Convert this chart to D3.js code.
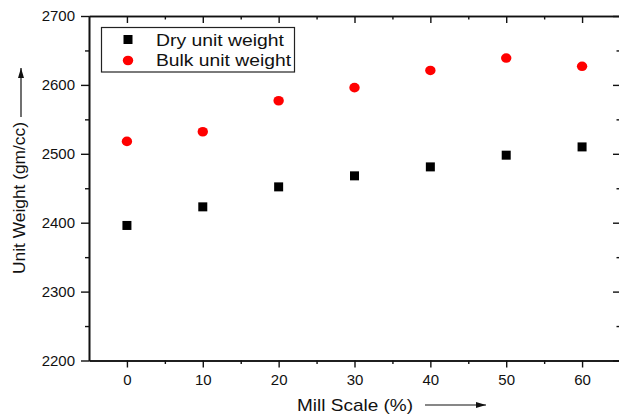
<!DOCTYPE html>
<html>
<head>
<meta charset="utf-8">
<script src="https://cdn.jsdelivr.net/npm/d3@7"></script>
<style>
  html, body { margin: 0; padding: 0; background: #fff; }
  svg { display: block; font-family: "Liberation Sans", Arial, sans-serif; }
  .axis path, .axis line { stroke: #111; }
  .axis text { fill: #111; font-size: 15px; }
</style>
</head>
<body>
<svg id="chart" width="619" height="415"></svg>
<script>
// Mill scale content (%) and measured unit weights (gm/cc)
const millScale = [0, 10, 20, 30, 40, 50, 60];
const dryUnitWeight = [2396, 2423, 2452, 2468, 2481, 2498, 2510];
const bulkUnitWeight = [2518, 2532, 2577, 2596, 2621, 2639, 2627];

const xMajorTicks = [0, 10, 20, 30, 40, 50, 60];
const xMinorTicks = [5, 15, 25, 35, 45, 55];
const yMajorTicks = [2200, 2300, 2400, 2500, 2600, 2700];
const yMinorTicks = [2250, 2350, 2450, 2550, 2650];

const seriesNames = ["Dry unit weight", "Bulk unit weight"];

const svg = d3.select("#chart");

const plotLeft = 89, plotRight = 620, plotTop = 16, plotBottom = 360.5;

const x = d3.scaleLinear().domain([-5, 65]).range([plotLeft, plotRight]);
const y = d3.scaleLinear().domain([2200, 2700]).range([plotBottom, plotTop]);

function styleAxis(g) {
  g.attr("class", "axis");
  g.select(".domain").attr("stroke-width", 1.6);
  g.selectAll(".tick line").attr("stroke-width", 1.4);
}

// Bottom axis: outward ticks with labels
svg.append("g")
  .attr("transform", `translate(0,${plotBottom})`)
  .call(d3.axisBottom(x).tickValues(xMajorTicks).tickSize(7).tickSizeOuter(0).tickPadding(7))
  .call(styleAxis);
svg.append("g")
  .attr("transform", `translate(0,${plotBottom})`)
  .call(d3.axisBottom(x).tickValues(xMinorTicks).tickSize(3.5).tickSizeOuter(0).tickFormat(""))
  .call(styleAxis);

// Top axis: inward ticks, no labels
svg.append("g")
  .attr("transform", `translate(0,${plotTop})`)
  .call(d3.axisBottom(x).tickValues(xMajorTicks).tickSize(7).tickSizeOuter(0).tickFormat(""))
  .call(styleAxis);
svg.append("g")
  .attr("transform", `translate(0,${plotTop})`)
  .call(d3.axisBottom(x).tickValues(xMinorTicks).tickSize(3.5).tickSizeOuter(0).tickFormat(""))
  .call(styleAxis);

// Left axis: outward ticks with labels
svg.append("g")
  .attr("transform", `translate(${plotLeft},0)`)
  .call(d3.axisLeft(y).tickValues(yMajorTicks).tickSize(8).tickSizeOuter(0).tickPadding(6).tickFormat(d3.format("d")))
  .call(styleAxis);
svg.append("g")
  .attr("transform", `translate(${plotLeft},0)`)
  .call(d3.axisLeft(y).tickValues(yMinorTicks).tickSize(4).tickSizeOuter(0).tickFormat(""))
  .call(styleAxis);

// Right axis: inward ticks
svg.append("g")
  .attr("transform", `translate(${plotRight},0)`)
  .call(d3.axisLeft(y).tickValues(yMajorTicks).tickSize(7).tickSizeOuter(0).tickFormat(""))
  .call(styleAxis);
svg.append("g")
  .attr("transform", `translate(${plotRight},0)`)
  .call(d3.axisLeft(y).tickValues(yMinorTicks).tickSize(3.5).tickSizeOuter(0).tickFormat(""))
  .call(styleAxis);

// Data markers
const sq = 9;
svg.append("g").selectAll("rect")
  .data(millScale.map((m, i) => ({ m, v: dryUnitWeight[i] })))
  .join("rect")
  .attr("x", d => x(d.m) - sq / 2)
  .attr("y", d => y(d.v) - sq / 2)
  .attr("width", sq)
  .attr("height", sq)
  .attr("fill", "#000");

svg.append("g").selectAll("ellipse")
  .data(millScale.map((m, i) => ({ m, v: bulkUnitWeight[i] })))
  .join("ellipse")
  .attr("cx", d => x(d.m))
  .attr("cy", d => y(d.v))
  .attr("rx", 5.2)
  .attr("ry", 4.8)
  .attr("fill", "#ff0000");

// Legend
const legend = svg.append("g");
legend.append("rect")
  .attr("x", 101.5).attr("y", 27.5)
  .attr("width", 193).attr("height", 44.5)
  .attr("fill", "#fff").attr("stroke", "#222").attr("stroke-width", 1.2);
legend.append("rect")
  .attr("x", 128 - sq / 2).attr("y", 39.5 - sq / 2)
  .attr("width", sq).attr("height", sq).attr("fill", "#000");
legend.append("ellipse")
  .attr("cx", 128).attr("cy", 60.5).attr("rx", 5.2).attr("ry", 4.8).attr("fill", "#ff0000");
legend.append("text")
  .attr("x", 156).attr("y", 45.7)
  .attr("font-size", 17).attr("fill", "#111")
  .attr("textLength", 128).attr("lengthAdjust", "spacingAndGlyphs")
  .text(seriesNames[0]);
legend.append("text")
  .attr("x", 156).attr("y", 66.2)
  .attr("font-size", 17).attr("fill", "#111")
  .attr("textLength", 135).attr("lengthAdjust", "spacingAndGlyphs")
  .text(seriesNames[1]);

// Arrow head marker
svg.append("defs").append("marker")
  .attr("id", "arrow")
  .attr("viewBox", "0 0 10 6")
  .attr("refX", 10).attr("refY", 3)
  .attr("markerWidth", 10).attr("markerHeight", 6)
  .attr("markerUnits", "userSpaceOnUse")
  .attr("orient", "auto")
  .append("path")
  .attr("d", "M0,0 L10,3 L0,6 Z")
  .attr("fill", "#111");

// Y axis title with upward arrow
svg.append("text")
  .attr("transform", "translate(25,274) rotate(-90)")
  .attr("font-size", 17).attr("fill", "#111")
  .attr("textLength", 152).attr("lengthAdjust", "spacingAndGlyphs")
  .text("Unit Weight (gm/cc)");
svg.append("line")
  .attr("x1", 21).attr("y1", 117).attr("x2", 21).attr("y2", 68)
  .attr("stroke", "#111").attr("stroke-width", 1.2)
  .attr("marker-end", "url(#arrow)");

// X axis title with rightward arrow
svg.append("text")
  .attr("x", 297).attr("y", 411)
  .attr("font-size", 17).attr("fill", "#111")
  .attr("textLength", 116).attr("lengthAdjust", "spacingAndGlyphs")
  .text("Mill Scale (%)");
svg.append("line")
  .attr("x1", 425).attr("y1", 405).attr("x2", 486).attr("y2", 405)
  .attr("stroke", "#111").attr("stroke-width", 1.2)
  .attr("marker-end", "url(#arrow)");
</script>
</body>
</html>
